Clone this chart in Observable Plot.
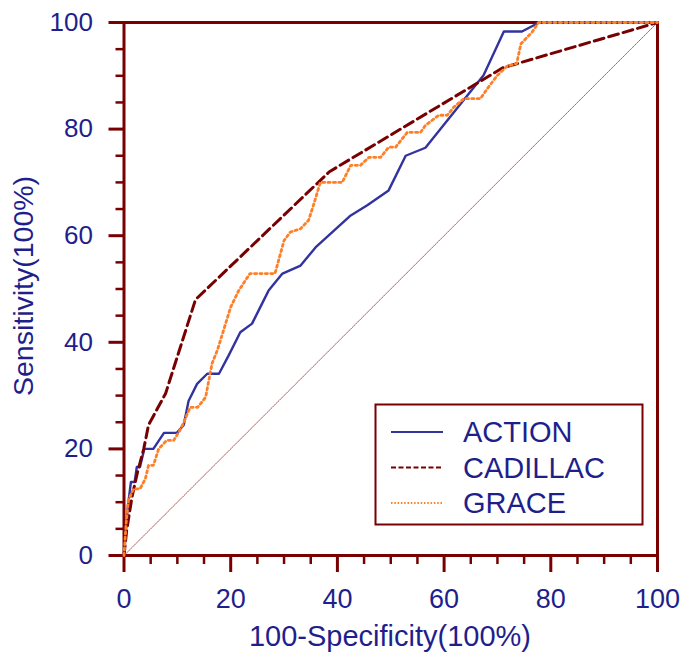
<!DOCTYPE html>
<html>
<head>
<meta charset="utf-8">
<script src="https://cdn.jsdelivr.net/npm/d3@7"></script>
<script src="https://cdn.jsdelivr.net/npm/@observablehq/plot@0.6"></script>
<style>
  body { margin: 0; background: #fff; }
  #chart { width: 682px; height: 655px; }
</style>
</head>
<body>
<div id="chart"></div>
<script>
// ---- data ----
const seriesNames = ["ACTION", "CADILLAC", "GRACE"];

const actionX = [0, 0.3, 0.7, 1.3, 2.0, 2.4, 3.0, 3.8, 5.5, 7.5, 9.9, 11.2, 12.1, 13.7, 15.6, 17.8, 19.6, 21.8, 24.0, 27.1, 29.7, 33.1, 35.9, 42.5, 45.6, 49.6, 52.8, 56.5, 67.4, 71.2, 74.6, 77.8, 100];
const actionY = [0, 4.0, 9.0, 13.8, 13.8, 16.6, 16.6, 20.0, 20.0, 23.0, 23.0, 24.5, 29.0, 32.2, 34.1, 34.1, 37.5, 41.9, 43.5, 49.7, 52.9, 54.4, 57.8, 63.8, 65.7, 68.5, 75.0, 76.5, 90.1, 98.3, 98.3, 100, 100];

const cadillacX = [0, 0.5, 1.5, 2.5, 3.7, 4.6, 7.8, 13.4, 38.5, 71.0, 100];
const cadillacY = [0, 4.7, 11.0, 15.5, 20.0, 24.5, 30.4, 48.0, 72.0, 91.5, 100];

const graceX = [0, 0.4, 0.8, 1.8, 3.0, 4.0, 4.6, 5.5, 6.5, 8.0, 9.3, 10.5, 11.2, 12.4, 13.8, 15.3, 16.5, 17.5, 20.0, 21.5, 23.6, 28.3, 30.0, 31.2, 33.1, 34.6, 35.6, 36.8, 40.9, 42.5, 44.3, 45.9, 48.1, 49.6, 50.9, 53.1, 55.6, 56.5, 59.0, 60.6, 61.8, 63.7, 66.8, 68.1, 70.0, 71.8, 73.6, 74.4, 76.5, 77.7, 100];
const graceY = [0, 6.0, 10.3, 12.5, 12.5, 14.4, 16.9, 16.9, 20.0, 21.6, 21.6, 23.5, 25.0, 27.8, 27.8, 29.7, 36.0, 38.5, 46.6, 49.7, 52.9, 52.9, 59.1, 60.7, 61.3, 62.9, 66.0, 70.0, 70.0, 73.2, 73.2, 74.7, 74.7, 76.6, 76.6, 79.4, 79.4, 80.7, 82.6, 82.6, 84.1, 85.7, 85.7, 87.6, 90.1, 91.8, 92.3, 96.0, 98.2, 100, 100];

const refX = [0, 100];
const refY = [0, 100];

const majorTicks = [0, 20, 40, 60, 80, 100];
const minorTicks = [5, 10, 15, 25, 30, 35, 45, 50, 55, 65, 70, 75, 85, 90, 95];
const xTitle = "100-Specificity(100%)";
const yTitle = "Sensitivity(100%)";

// ---- styling ----
const maroon = "#780000";
const navy = "#1f1f8c";
const blue = "#3333a0";
const orange = "#ff7f27";
const font = "'Liberation Sans', Arial, Helvetica, sans-serif";

const rows = (xs, ys) => xs.map((x, i) => ({x, y: ys[i]}));
const styles = {
  ACTION:   {stroke: blue,   strokeWidth: 2.4, strokeLinejoin: "round"},
  CADILLAC: {stroke: maroon, strokeWidth: 3, strokeDasharray: "10,5"},
  GRACE:    {stroke: orange, strokeWidth: 2.8, strokeDasharray: "2.2,3.2", strokeLinejoin: "miter"}
};

const plot = Plot.plot({
  width: 682,
  height: 655,
  marginLeft: 123.5,
  marginRight: 25,
  marginTop: 22,
  marginBottom: 100,
  x: {domain: [0, 100], label: null},
  y: {domain: [0, 100], label: null},
  style: {background: "white", fontFamily: font, overflow: "visible"},
  marks: [
    Plot.line(rows(refX, refY), {x: "x", y: "y", stroke: "#b04848", strokeWidth: 0.9, strokeDasharray: "1.5,1"}),
    Plot.frame({stroke: maroon, strokeWidth: 3}),
    Plot.axisX(minorTicks, {anchor: "bottom", tickSize: 9, stroke: maroon, strokeWidth: 2.5, tickFormat: () => "", label: null}),
    Plot.axisX(majorTicks, {anchor: "bottom", tickSize: 17, tickPadding: 16, stroke: maroon, strokeWidth: 3, fill: navy, fontSize: 27, label: null}),
    Plot.axisY(minorTicks, {anchor: "left", tickSize: 8, stroke: maroon, strokeWidth: 2.5, tickFormat: () => "", label: null}),
    Plot.axisY(majorTicks, {anchor: "left", tickSize: 15, tickPadding: 16, stroke: maroon, strokeWidth: 3, fill: navy, fontSize: 26, label: null}),
    Plot.line(rows(actionX, actionY), {x: "x", y: "y", ...styles.ACTION}),
    Plot.line(rows(cadillacX, cadillacY), {x: "x", y: "y", ...styles.CADILLAC}),
    Plot.line(rows(graceX, graceY), {x: "x", y: "y", ...styles.GRACE})
  ]
});

document.getElementById("chart").appendChild(plot);

// ---- axis titles and legend ----
const svg = d3.select(plot);
svg.append("text")
  .attr("x", 390).attr("y", 646)
  .attr("text-anchor", "middle")
  .attr("fill", navy).attr("font-size", 29).attr("font-family", font)
  .text(xTitle);
svg.append("text")
  .attr("transform", "translate(32.5,286) rotate(-90)")
  .attr("text-anchor", "middle")
  .attr("fill", navy).attr("font-size", 28.5).attr("font-family", font)
  .text(yTitle);

const lg = svg.append("g");
lg.append("rect")
  .attr("x", 375.5).attr("y", 404.5).attr("width", 267).attr("height", 120)
  .attr("fill", "white").attr("stroke", maroon).attr("stroke-width", 2);
const legendDash = {ACTION: null, CADILLAC: "5,2.5", GRACE: "1.5,1.8"};
const legendWidth = {ACTION: 1.8, CADILLAC: 2.2, GRACE: 2};
seriesNames.forEach((name, i) => {
  const cy = 432 + i * 35.5;
  lg.append("line")
    .attr("x1", 391).attr("x2", 443).attr("y1", cy).attr("y2", cy)
    .attr("stroke", styles[name].stroke)
    .attr("stroke-width", legendWidth[name])
    .attr("stroke-dasharray", legendDash[name]);
  lg.append("text")
    .attr("x", 463).attr("y", cy).attr("dy", "0.36em")
    .attr("text-anchor", "start")
    .attr("fill", navy).attr("font-size", 29).attr("font-family", font)
    .text(name);
});
</script>
</body>
</html>
